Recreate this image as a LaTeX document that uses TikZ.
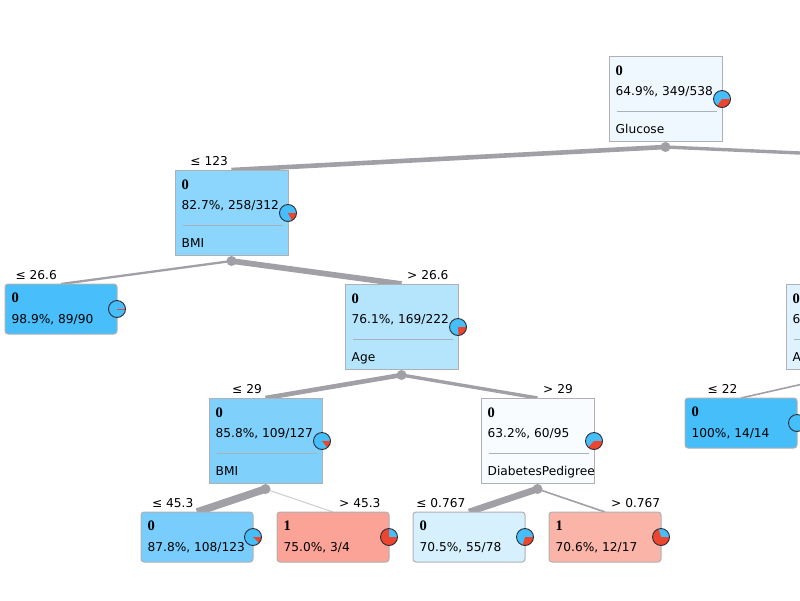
\documentclass[tikz,border=0pt]{standalone}
\usepackage{fontspec}
\setmainfont{DejaVu Sans}
\newfontfamily\clsfont{Liberation Serif}
\usetikzlibrary{calc,backgrounds}
\definecolor{pieblue}{RGB}{70,190,250}
\definecolor{piered}{RGB}{237,70,47}
\definecolor{edgegray}{RGB}{160,160,166}
\definecolor{edgelight}{RGB}{205,205,208}
\definecolor{bordergray}{RGB}{176,176,180}
\definecolor{sepgray}{RGB}{168,178,188}
\definecolor{pieline}{RGB}{45,45,55}
\definecolor{fRoot}{RGB}{240,248,255}
\definecolor{fBMI}{RGB}{140,213,252}
\definecolor{fAge}{RGB}{181,228,253}
\definecolor{fBMIb}{RGB}{128,208,252}
\definecolor{fDP}{RGB}{248,252,255}
\definecolor{fAgeR}{RGB}{222,242,255}
\definecolor{fLa}{RGB}{72,191,250}
\definecolor{fLb}{RGB}{70,190,250}
\definecolor{fLc}{RGB}{120,205,252}
\definecolor{fLd}{RGB}{250,163,150}
\definecolor{fLe}{RGB}{214,240,254}
\definecolor{fLf}{RGB}{250,180,168}
\tikzset{
  ibox/.style={draw=bordergray, line width=1pt, anchor=north west, inner sep=0pt, outer sep=0pt, minimum width=113pt, minimum height=85pt},
  lbox/.style={draw=bordergray, line width=1pt, anchor=north west, inner sep=0pt, outer sep=0pt, minimum width=112pt, minimum height=50pt, rounded corners=3pt},
  clstxt/.style={anchor=base west, inner sep=0pt, font=\clsfont\bfseries\fontsize{14.5}{16}\selectfont},
  stattxt/.style={anchor=base west, inner sep=0pt, font=\fontsize{12.2}{14}\selectfont},
  lbltxtL/.style={anchor=base east, inner sep=0pt, font=\fontsize{12.2}{14}\selectfont},
  lbltxtR/.style={anchor=base west, inner sep=0pt, font=\fontsize{12.2}{14}\selectfont},
  sepline/.style={draw=sepgray, line width=1pt},
  dotnode/.style={circle, fill=edgegray, inner sep=0pt, minimum size=10pt},
  edge/.style={draw=edgegray, line cap=butt},
  pieborder/.style={draw=pieline, line width=0.9pt}
}
\newcommand{\mypie}[3]{%
  \coordinate (#1-pc) at ($(#1.north east)+(0,#2)$);
  \fill[pieblue] (#1-pc) circle[radius=8.5];
  \ifdim #3pt>0pt
    \fill[piered] (#1-pc) -- ++(0:8.5) arc[start angle=0,end angle=#3,radius=8.5] -- cycle;
    \draw[piered, line width=0.9pt] (#1-pc) -- ++(0:8.5);
  \fi
  \draw[pieborder] (#1-pc) circle[radius=8.5];
}
\newcommand{\inode}[8]{%
  \node[ibox, fill=#4] (#1) at (#2,#3) {};
  \node[clstxt] (#1-cls) at ($(#1.north west)+(6.5,19)$) {#5};
  \node[stattxt] (#1-st) at ($(#1.north west)+(6.5,39)$) {#6};
  \draw[sepline] ($(#1.north west)+(8,55)$) -- ($(#1.north east)+(-5,55)$);
  \begin{scope}
    \clip ($(#1.north west)+(0.5,0)$) rectangle ($(#1.south east)+(-0.5,0)$);
    \node[stattxt] (#1-at) at ($(#1.north west)+(6.5,77)$) {#7};
  \end{scope}
  \node[dotnode] (#1-dot) at ($(#1.south)+(0,6)$) {};
  \mypie{#1}{43}{#8}
}
\newcommand{\leafnode}[7]{%
  \node[lbox, fill=#4] (#1) at (#2,#3) {};
  \node[clstxt] (#1-cls) at ($(#1.north west)+(6.5,18.5)$) {#5};
  \node[stattxt] (#1-st) at ($(#1.north west)+(6.5,39.5)$) {#6};
  \mypie{#1}{25}{#7}
}
\begin{document}
\begin{tikzpicture}[x=1pt,y=-1pt]
\useasboundingbox (0,0) rectangle (800,600);
% internal nodes
\inode{root}{609}{56}{fRoot}{0}{64.9\%, 349/538}{Glucose}{126.4}
\inode{bmi}{175}{170}{fBMI}{0}{82.7\%, 258/312}{BMI}{62.3}
\inode{age}{345}{284}{fAge}{0}{76.1\%, 169/222}{Age}{86.0}
\inode{bmib}{209}{398}{fBMIb}{0}{85.8\%, 109/127}{BMI}{51.1}
\inode{dp}{481}{398}{fDP}{0}{63.2\%, 60/95}{DiabetesPedigree}{132.5}
% partially visible node at right border
\node[ibox, fill=fAgeR] (ager) at (786,284) {};
\node[clstxt] (ager-cls) at ($(ager.north west)+(6.5,19)$) {0};
\node[stattxt] (ager-st) at ($(ager.north west)+(6.5,39)$) {6};
\draw[sepline] ($(ager.north west)+(8,55)$) -- ($(ager.north east)+(-5,55)$);
\node[stattxt] (ager-at) at ($(ager.north west)+(6.5,77)$) {Age};
\node[dotnode] (ager-dot) at ($(ager.south)+(0,6)$) {};
\coordinate (rootright) at (1180,170);
% leaves
\leafnode{la}{5}{284}{fLa}{0}{98.9\%, 89/90}{4.0}
\leafnode{lb}{685}{398}{fLb}{0}{100\%, 14/14}{0}
\leafnode{lc}{141}{512}{fLc}{0}{87.8\%, 108/123}{43.9}
\leafnode{ld}{277}{512}{fLd}{1}{75.0\%, 3/4}{270}
\leafnode{le}{413}{512}{fLe}{0}{70.5\%, 55/78}{106.2}
\leafnode{lf}{549}{512}{fLf}{1}{70.6\%, 12/17}{254.2}
% edge labels
\node[lbltxtL] (t1) at ($(bmi.north)+(-3.5,-4.5)$) {≤ 123};
\node[lbltxtL] (t2) at ($(la.north)+(-4,-4.5)$) {≤ 26.6};
\node[lbltxtR] (t3) at ($(age.north)+(5.5,-4.5)$) {> 26.6};
\node[lbltxtL] (t4) at ($(bmib.north)+(-3.5,-4.5)$) {≤ 29};
\node[lbltxtR] (t5) at ($(dp.north)+(5.5,-4.5)$) {> 29};
\node[lbltxtL] (t6) at ($(lc.north)+(-3.5,-4.5)$) {≤ 45.3};
\node[lbltxtR] (t7) at ($(ld.north)+(6,-4.5)$) {> 45.3};
\node[lbltxtL] (t8) at ($(le.north)+(-3.5,-4.5)$) {≤ 0.767};
\node[lbltxtR] (t9) at ($(lf.north)+(6,-4.5)$) {> 0.767};
\node[lbltxtL] (t10) at ($(lb.north)+(-3.5,-4.5)$) {≤ 22};
% connectors
\begin{scope}[on background layer]
  \fill[white] (0,0) rectangle (800,600);
  \draw[edge, line width=4.6pt] (root-dot.center) -- (bmi.north);
  \draw[edge, line width=3.4pt] (root-dot.center) -- (rootright);
  \draw[edge, line width=2.3pt] (bmi-dot.center) -- (la.north);
  \draw[edge, line width=5.7pt] (bmi-dot.center) -- (age.north);
  \draw[edge, line width=4.6pt] (age-dot.center) -- (bmib.north);
  \draw[edge, line width=3.4pt] (age-dot.center) -- (dp.north);
  \draw[edge, line width=7.5pt] (bmib-dot.center) -- (lc.north);
  \draw[draw=edgelight, line cap=butt, line width=1pt] (bmib-dot.center) -- (ld.north);
  \draw[edge, line width=6.6pt] (dp-dot.center) -- (le.north);
  \draw[edge, line width=1.6pt] (dp-dot.center) -- (lf.north);
  \draw[edge, line width=1.6pt] (ager-dot.center) -- (lb.north);
\end{scope}
\end{tikzpicture}
\end{document}
